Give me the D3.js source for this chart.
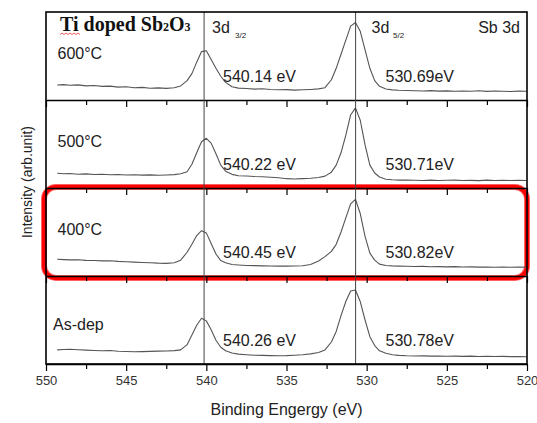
<!DOCTYPE html>
<meta charset="utf-8" />
<style>
  body { margin: 0; background: #fff; }
  svg { font-family: "Liberation Sans", Arial, sans-serif; }
</style>
<body>
  <script src="https://d3js.org/d3.v7.min.js"></script>
  <script>
    // binding energy grid (eV), shared by all four spectra
    const energy = [549.3, 548.9, 548.5, 548, 547.5, 547, 546.5, 546, 545.5, 545, 544.5, 544, 543.5, 543, 542.5, 542,
      541.6, 541.2, 540.9, 540.6, 540.3, 540.0, 539.7, 539.4, 539.1, 538.8, 538.4, 538.0, 537.5, 537, 536.5, 536,
      535.5, 535, 534.5, 534, 533.5, 533, 532.6, 532.2, 531.9, 531.6, 531.3, 531.0, 530.7, 530.4, 530.1, 529.8,
      529.5, 529.2, 528.8, 528.4, 528, 527.5, 527, 526.5, 526, 525.5, 525, 524.5, 524, 523.5, 523, 522.5, 522,
      521.5, 521, 520.5, 520.05];

    // intensity (arb. unit, 0-100 of each panel)
    const int600 = [17, 17.5, 16.8, 17.2, 16, 16.5, 15.5, 15.8, 14.6, 15, 14, 14.3, 13.4, 13.8, 13.2, 14,
      16, 22, 30, 43, 55, 56, 46, 36, 27, 20, 15, 13.5, 13, 12.4, 12.8, 12,
      11.6, 11.8, 11.2, 11.6, 12, 12.6, 14, 23, 36, 52, 68, 84, 88, 78, 57, 36,
      22, 15.5, 12.5, 11.5, 11, 10.8, 10.5, 10.2, 10.6, 10.1, 10.4, 9.9, 10.3, 10, 10.5, 9.8, 10.2,
      10, 9.7, 10.1, 9.9];
    const int500 = [16.7, 16.2, 16.5, 15.6, 16, 15.3, 15.6, 15, 15.3, 14.8, 15.1, 14.6, 14.9, 14.5, 14.8, 15.2,
      16.2, 18.5, 27, 40, 52.6, 56.5, 51, 39, 26, 19, 15.5, 14, 13.6, 13, 12.7, 12.2,
      11.6, 10.6, 10.2, 10.6, 11, 12, 13.5, 18, 26, 40, 60, 83, 91, 77, 49, 26,
      17, 12.5, 10, 9.3, 9, 9, 8.8, 8.6, 8.9, 8.5, 8.8, 9, 8.6, 8.7, 8.4, 8.9, 8.6,
      8.8, 8.5, 8.7, 8.6];
    const int400 = [19, 18.6, 18.3, 18.5, 17.8, 17.6, 17.2, 17.4, 16.6, 16.2, 15.8, 15.4, 15.1, 14.6, 14.4, 15,
      18, 27, 36, 46, 51.5, 49, 37, 25, 17.5, 15, 13, 12.5, 12, 11.8, 11.5, 11.4,
      11.2, 11.2, 11.4, 11.6, 13, 17, 22, 28, 36, 50, 66, 82, 87, 71, 45, 26,
      18, 13.5, 12, 11.5, 11.2, 11, 10.8, 10.9, 10.5, 10.7, 10.4, 10.6, 10.2, 10.4, 10.1, 10.3, 10,
      10.2, 9.9, 10.1, 9.9];
    const intAsDep = [16, 16.4, 16.8, 16.2, 15.8, 15.4, 15, 15.3, 14.5, 14.2, 14, 14.1, 14.4, 14.6, 14.8, 15.2,
      16, 22, 33, 44, 52, 49, 39, 27, 19, 15, 12.5, 11.2, 10.5, 10, 9.8, 9.5,
      9.4, 9.5, 10, 10.5, 11.5, 13, 16, 25, 37, 55, 71, 83, 84, 71, 50, 31,
      21, 15, 12.2, 10.5, 9.8, 9.3, 9.1, 9.2, 8.9, 9.1, 8.8, 9, 8.7, 8.9, 8.6, 8.8, 8.5,
      8.7, 8.4, 8.6, 8.3];

    const panelLabels = ["600\u00b0C", "500\u00b0C", "400\u00b0C", "As-dep"];
    const peak32Labels = ["540.14 eV", "540.22 eV", "540.45 eV", "540.26 eV"];
    const peak52Labels = ["530.69eV", "530.71eV", "530.82eV", "530.78eV"];
    const refLines = [540.14, 530.69];
    const majorTicks = [550, 545, 540, 535, 530, 525, 520];
    const minorTicks = [547.5, 542.5, 537.5, 532.5, 527.5, 522.5];

    const series = [int600, int500, int400, intAsDep];
    const highlighted = 2; // 400°C panel boxed in red

    const width = 537, height = 423;
    const margin = { top: 12, right: 10, bottom: 59, left: 46 };
    const plotW = width - margin.left - margin.right;
    const plotH = height - margin.top - margin.bottom;
    const panelH = plotH / series.length;

    const svg = d3.select("body").append("svg")
      .attr("width", width)
      .attr("height", height);

    svg.append("rect").attr("width", width).attr("height", height).attr("fill", "#fff");

    const x = d3.scaleLinear().domain([550, 520]).range([margin.left, margin.left + plotW]);

    // red highlight box around the 400°C panel
    const hb = { top: margin.top + panelH * highlighted, bottom: margin.top + panelH * (highlighted + 1) };
    svg.append("rect")
      .attr("x", margin.left - 2)
      .attr("y", hb.top - 1)
      .attr("width", plotW + 2)
      .attr("height", hb.bottom - hb.top + 3)
      .attr("rx", 12)
      .attr("fill", "none")
      .attr("stroke", "#ff6060")
      .attr("stroke-width", 6);
    svg.append("rect")
      .attr("x", margin.left - 2)
      .attr("y", hb.top - 1)
      .attr("width", plotW + 2)
      .attr("height", hb.bottom - hb.top + 3)
      .attr("rx", 12)
      .attr("fill", "none")
      .attr("stroke", "#ff0000")
      .attr("stroke-width", 4);

    series.forEach(function (vals, i) {
      const top = margin.top + panelH * i;
      const y = d3.scaleLinear().domain([0, 100]).range([top + panelH, top]);

      const line = d3.line()
        .x(function (d, k) { return x(energy[k]); })
        .y(function (d) { return y(d); });

      svg.append("path")
        .datum(vals)
        .attr("fill", "none")
        .attr("stroke", "#555")
        .attr("stroke-width", 1.1)
        .attr("stroke-linejoin", "round")
        .attr("d", line);

      // bottom axis of each panel, ticks pointing down
      const last = i === series.length - 1;
      const ax = svg.append("g")
        .attr("transform", "translate(0," + (top + panelH) + ")")
        .call(d3.axisBottom(x)
          .tickValues(majorTicks.concat(minorTicks))
          .tickSize(7)
          .tickSizeOuter(0)
          .tickFormat(function (d) { return last && majorTicks.includes(d) ? d : ""; }));
      ax.select(".domain").attr("stroke", "#000").attr("stroke-width", 1.5);
      ax.selectAll(".tick line").attr("stroke", "#000").attr("stroke-width", 1.2)
        .attr("y2", function (d) { return majorTicks.includes(d) ? 7 : 5; });
      ax.selectAll(".tick text")
        .attr("y", 12)
        .attr("font-size", 13)
        .attr("fill", "#333")
        .attr("font-family", "Liberation Sans, Arial, sans-serif");

      // texts
      svg.append("text")
        .attr("x", i === 3 ? 53 : 57.5)
        .attr("y", i === 3 ? top + 54 : top + 47)
        .attr("font-size", 16)
        .attr("fill", "#222")
        .text(panelLabels[i]);
      svg.append("text")
        .attr("x", 223)
        .attr("y", top + panelH - 18.5)
        .attr("font-size", 16)
        .attr("fill", "#222")
        .text(peak32Labels[i]);
      svg.append("text")
        .attr("x", 385.5)
        .attr("y", top + panelH - 18.5)
        .attr("font-size", 16)
        .attr("fill", "#222")
        .text(peak52Labels[i]);
    });

    // reference lines through the peaks
    svg.selectAll(".ref")
      .data(refLines)
      .join("line")
      .attr("class", "ref")
      .attr("x1", function (d) { return x(d); })
      .attr("x2", function (d) { return x(d); })
      .attr("y1", margin.top)
      .attr("y2", margin.top + plotH)
      .attr("stroke", "#444")
      .attr("stroke-width", 1);

    // outer frame
    svg.append("rect")
      .attr("x", margin.left)
      .attr("y", margin.top)
      .attr("width", plotW)
      .attr("height", plotH)
      .attr("fill", "none")
      .attr("stroke", "#000")
      .attr("stroke-width", 1.6);

    // title
    const title = svg.append("text")
      .attr("x", 60)
      .attr("y", 31)
      .attr("font-family", "Liberation Serif, Times New Roman, serif")
      .attr("font-weight", "bold")
      .attr("font-size", 20)
      .attr("fill", "#111");
    title.append("tspan").text("Ti doped Sb");
    title.append("tspan").attr("font-size", 12).text("2");
    title.append("tspan").text("O");
    title.append("tspan").attr("font-size", 12).text("3");

    // spell-check squiggle under "Ti"
    svg.append("path")
      .attr("d", "M60,34.5 l2,-1.5 l2,1.5 l2,-1.5 l2,1.5 l2,-1.5 l2,1.5 l2,-1.5 l2,1.5 l2,-1.5 l2,1.5")
      .attr("fill", "none")
      .attr("stroke", "#e03030")
      .attr("stroke-width", 0.8);

    const d32 = svg.append("text").attr("x", 212).attr("y", 33).attr("font-size", 16).attr("fill", "#222");
    d32.append("tspan").text("3d");
    d32.append("tspan").attr("x", 235).attr("y", 38).attr("font-size", 8).text("3/2");

    const d52 = svg.append("text").attr("x", 371.5).attr("y", 33).attr("font-size", 16).attr("fill", "#222");
    d52.append("tspan").text("3d");
    d52.append("tspan").attr("x", 393).attr("y", 38).attr("font-size", 8).text("5/2");

    svg.append("text")
      .attr("x", 520)
      .attr("y", 33)
      .attr("text-anchor", "end")
      .attr("font-size", 16)
      .attr("fill", "#222")
      .text("Sb 3d");

    // axis titles
    svg.append("text")
      .attr("x", margin.left + plotW / 2)
      .attr("y", 415)
      .attr("text-anchor", "middle")
      .attr("font-size", 16)
      .attr("fill", "#222")
      .text("Binding Engergy (eV)");

    svg.append("text")
      .attr("transform", "translate(32,182) rotate(-90)")
      .attr("text-anchor", "middle")
      .attr("font-size", 14)
      .attr("fill", "#222")
      .text("Intensity (arb.unit)");
  </script>
</body>
